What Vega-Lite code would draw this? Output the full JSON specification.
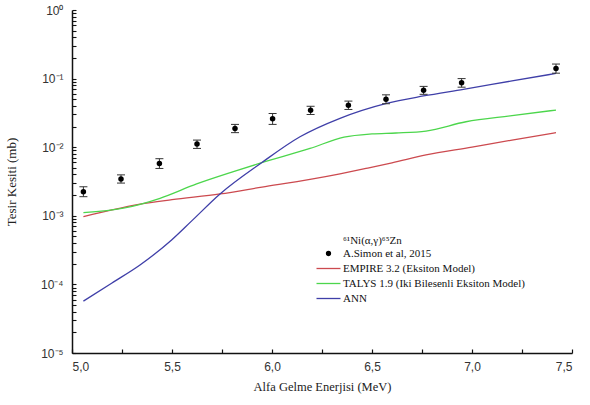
{
  "$schema": "https://vega.github.io/schema/vega-lite/v6.json",
  "width": 500,
  "height": 343,
  "autosize": {"type": "none"},
  "padding": {"left": 72, "top": 10, "right": 18, "bottom": 52},
  "background": "white",
  "config": {"view": {"stroke": null}, "axis": {"grid": false, "ticks": true, "tickOpacity": 1}},
  "datasets": {
    "points": [
      {"series": "A.Simon  et al, 2015", "E": 5.057, "v": 0.00225, "lo": 0.0019, "hi": 0.00265},
      {"series": "A.Simon  et al, 2015", "E": 5.245, "v": 0.00345, "lo": 0.0030, "hi": 0.00395},
      {"series": "A.Simon  et al, 2015", "E": 5.437, "v": 0.0058, "lo": 0.0049, "hi": 0.0068},
      {"series": "A.Simon  et al, 2015", "E": 5.625, "v": 0.0111, "lo": 0.0096, "hi": 0.0127},
      {"series": "A.Simon  et al, 2015", "E": 5.815, "v": 0.0188, "lo": 0.0163, "hi": 0.0215},
      {"series": "A.Simon  et al, 2015", "E": 6.003, "v": 0.026, "lo": 0.0215, "hi": 0.031},
      {"series": "A.Simon  et al, 2015", "E": 6.193, "v": 0.0345, "lo": 0.030, "hi": 0.0395},
      {"series": "A.Simon  et al, 2015", "E": 6.382, "v": 0.0408, "lo": 0.0355, "hi": 0.047},
      {"series": "A.Simon  et al, 2015", "E": 6.57, "v": 0.050, "lo": 0.043, "hi": 0.058},
      {"series": "A.Simon  et al, 2015", "E": 6.758, "v": 0.0675, "lo": 0.059, "hi": 0.077},
      {"series": "A.Simon  et al, 2015", "E": 6.948, "v": 0.087, "lo": 0.075, "hi": 0.100},
      {"series": "A.Simon  et al, 2015", "E": 7.42, "v": 0.140, "lo": 0.120, "hi": 0.163}
    ],
    "curves": [
      {"series": "EMPIRE 3.2 (Eksiton Model)", "E": 5.057, "v": 0.00097},
      {"series": "EMPIRE 3.2 (Eksiton Model)", "E": 5.2, "v": 0.00122},
      {"series": "EMPIRE 3.2 (Eksiton Model)", "E": 5.34, "v": 0.00148},
      {"series": "EMPIRE 3.2 (Eksiton Model)", "E": 5.5, "v": 0.00172},
      {"series": "EMPIRE 3.2 (Eksiton Model)", "E": 5.74, "v": 0.00208},
      {"series": "EMPIRE 3.2 (Eksiton Model)", "E": 5.95, "v": 0.00262},
      {"series": "EMPIRE 3.2 (Eksiton Model)", "E": 6.19, "v": 0.0034},
      {"series": "EMPIRE 3.2 (Eksiton Model)", "E": 6.34, "v": 0.0041},
      {"series": "EMPIRE 3.2 (Eksiton Model)", "E": 6.47, "v": 0.0049},
      {"series": "EMPIRE 3.2 (Eksiton Model)", "E": 6.6, "v": 0.0059},
      {"series": "EMPIRE 3.2 (Eksiton Model)", "E": 6.77, "v": 0.0077},
      {"series": "EMPIRE 3.2 (Eksiton Model)", "E": 7.0, "v": 0.0100},
      {"series": "EMPIRE 3.2 (Eksiton Model)", "E": 7.2, "v": 0.0127},
      {"series": "EMPIRE 3.2 (Eksiton Model)", "E": 7.42, "v": 0.0163},
      {"series": "TALYS 1.9 (Iki Bilesenli Eksiton Model)", "E": 5.057, "v": 0.00111},
      {"series": "TALYS 1.9 (Iki Bilesenli Eksiton Model)", "E": 5.257, "v": 0.00129},
      {"series": "TALYS 1.9 (Iki Bilesenli Eksiton Model)", "E": 5.44, "v": 0.0018},
      {"series": "TALYS 1.9 (Iki Bilesenli Eksiton Model)", "E": 5.623, "v": 0.00291},
      {"series": "TALYS 1.9 (Iki Bilesenli Eksiton Model)", "E": 5.807, "v": 0.0044},
      {"series": "TALYS 1.9 (Iki Bilesenli Eksiton Model)", "E": 5.948, "v": 0.00594},
      {"series": "TALYS 1.9 (Iki Bilesenli Eksiton Model)", "E": 6.19, "v": 0.0096},
      {"series": "TALYS 1.9 (Iki Bilesenli Eksiton Model)", "E": 6.36, "v": 0.0140},
      {"series": "TALYS 1.9 (Iki Bilesenli Eksiton Model)", "E": 6.5, "v": 0.0156},
      {"series": "TALYS 1.9 (Iki Bilesenli Eksiton Model)", "E": 6.62, "v": 0.0161},
      {"series": "TALYS 1.9 (Iki Bilesenli Eksiton Model)", "E": 6.77, "v": 0.0172},
      {"series": "TALYS 1.9 (Iki Bilesenli Eksiton Model)", "E": 6.97, "v": 0.0235},
      {"series": "TALYS 1.9 (Iki Bilesenli Eksiton Model)", "E": 7.2, "v": 0.0288},
      {"series": "TALYS 1.9 (Iki Bilesenli Eksiton Model)", "E": 7.42, "v": 0.0348},
      {"series": "ANN", "E": 5.057, "v": 0.000057},
      {"series": "ANN", "E": 5.2, "v": 0.000105},
      {"series": "ANN", "E": 5.34, "v": 0.000192},
      {"series": "ANN", "E": 5.498, "v": 0.000444},
      {"series": "ANN", "E": 5.6, "v": 0.00085},
      {"series": "ANN", "E": 5.74, "v": 0.00208},
      {"series": "ANN", "E": 5.948, "v": 0.00594},
      {"series": "ANN", "E": 6.14, "v": 0.0142},
      {"series": "ANN", "E": 6.34, "v": 0.0264},
      {"series": "ANN", "E": 6.573, "v": 0.0436},
      {"series": "ANN", "E": 6.757, "v": 0.0558},
      {"series": "ANN", "E": 6.957, "v": 0.0698},
      {"series": "ANN", "E": 7.2, "v": 0.0925},
      {"series": "ANN", "E": 7.42, "v": 0.119}
    ]
  },
  "encoding": {
    "x": {
      "field": "E", "type": "quantitative",
      "scale": {"domain": [5, 7.5], "nice": false, "zero": false},
      "axis": {
        "values": [5, 5.25, 5.5, 5.75, 6, 6.25, 6.5, 6.75, 7, 7.25, 7.5],
        "labelExpr": "datum.value * 2 == round(datum.value * 2) ? replace(format(datum.value, '.1f'), '.', ',') : ''",
        "title": "Alfa Gelme Enerjisi (MeV)",
        "titleFont": "Liberation Serif", "titleFontSize": 12.5, "titleFontWeight": "normal", "titleColor": "#222",
        "titlePadding": 8,
        "labelFont": "Liberation Sans", "labelFontSize": 12, "labelColor": "#333", "labelPadding": 12,
        "domainColor": "#111", "domainWidth": 1.5, "tickColor": "#111", "tickWidth": 1.2, "tickOpacity": 1,
        "tickSize": -4
      }
    },
    "y": {
      "field": "v", "type": "quantitative",
      "scale": {"type": "log", "domain": [0.00001, 1], "nice": false},
      "axis": {
        "values": [0.00001, 0.00002, 0.00003, 0.00004, 0.00005, 0.00006, 0.00007, 0.00008, 0.00009,
                   0.0001, 0.0002, 0.0003, 0.0004, 0.0005, 0.0006, 0.0007, 0.0008, 0.0009,
                   0.001, 0.002, 0.003, 0.004, 0.005, 0.006, 0.007, 0.008, 0.009,
                   0.01, 0.02, 0.03, 0.04, 0.05, 0.06, 0.07, 0.08, 0.09,
                   0.1, 0.2, 0.3, 0.4, 0.5, 0.6, 0.7, 0.8, 0.9, 1],
        "labelExpr": "abs(log(datum.value)/LN10 - round(log(datum.value)/LN10)) > 0.01 ? '' : datum.value >= 0.5 ? '10⁰' : datum.value >= 0.05 ? '10⁻¹' : datum.value >= 0.005 ? '10⁻²' : datum.value >= 0.0005 ? '10⁻³' : datum.value >= 0.00005 ? '10⁻⁴' : '10⁻⁵'",
        "labelOverlap": false,
        "title": "Tesir Kesiti (mb)",
        "titleFont": "Liberation Serif", "titleFontSize": 13, "titleFontWeight": "normal", "titleColor": "#222",
        "titlePadding": 22,
        "labelFont": "Liberation Sans", "labelFontSize": 12, "labelColor": "#333", "labelPadding": 13,
        "domainColor": "#111", "domainWidth": 1.5, "tickColor": "#111", "tickWidth": 1.1, "tickOpacity": 1,
        "tickSize": -4
      }
    }
  },
  "layer": [
    {
      "data": {"name": "curves"},
      "mark": {"type": "line", "strokeWidth": 1.3, "interpolate": "monotone"},
      "encoding": {
        "color": {
          "field": "series", "type": "nominal",
          "scale": {
            "domain": ["A.Simon  et al, 2015", "EMPIRE 3.2 (Eksiton Model)", "TALYS 1.9 (Iki Bilesenli Eksiton Model)", "ANN"],
            "range": ["#000000", "#cc4a4f", "#4cd64c", "#3f3fa8"]
          },
          "legend": {
            "title": "⁶¹Ni(α,γ)⁶⁵Zn",
            "orient": "none", "legendX": 251, "legendY": 225,
            "titleFont": "Liberation Serif", "titleFontSize": 11, "titleFontWeight": "normal", "titleColor": "#111", "titlePadding": 2,
            "labelFont": "Liberation Serif", "labelFontSize": 11, "labelColor": "#111", "labelOffset": 9, "labelLimit": 400,
            "symbolSize": 16, "rowPadding": 3,
            "encode": {
              "title": {"update": {"dx": {"value": 20}}},
              "symbols": {"update": {"stroke": {"scale": "color", "field": "value"}, "strokeWidth": {"value": 1.3}, "opacity": {"value": 1}}}
            }
          }
        }
      }
    },
    {
      "data": {"name": "points"},
      "mark": {"type": "rule", "color": "#333", "strokeWidth": 1},
      "encoding": {"y": {"field": "lo", "type": "quantitative"}, "y2": {"field": "hi"}}
    },
    {
      "data": {"name": "points"},
      "mark": {"type": "tick", "orient": "horizontal", "color": "#333", "thickness": 1, "size": 8, "opacity": 1},
      "encoding": {"y": {"field": "lo", "type": "quantitative"}}
    },
    {
      "data": {"name": "points"},
      "mark": {"type": "tick", "orient": "horizontal", "color": "#333", "thickness": 1, "size": 8, "opacity": 1},
      "encoding": {"y": {"field": "hi", "type": "quantitative"}}
    },
    {
      "data": {"name": "points"},
      "mark": {"type": "point", "filled": true, "size": 30, "opacity": 1},
      "encoding": {
        "color": {"field": "series", "type": "nominal"},
        "shape": {
          "field": "series", "type": "nominal",
          "scale": {
            "domain": ["A.Simon  et al, 2015", "EMPIRE 3.2 (Eksiton Model)", "TALYS 1.9 (Iki Bilesenli Eksiton Model)", "ANN"],
            "range": ["circle", "M-6,0H6", "M-6,0H6", "M-6,0H6"]
          }
        }
      }
    }
  ]
}
